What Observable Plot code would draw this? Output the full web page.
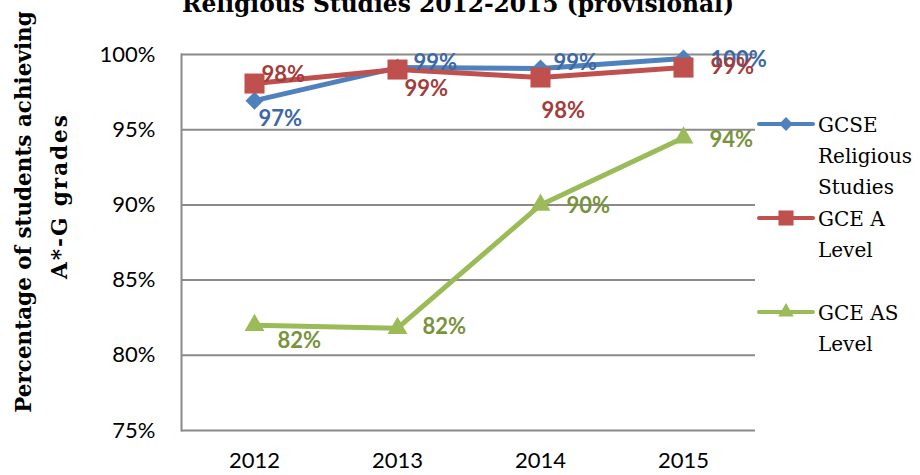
<!DOCTYPE html>
<html><head><meta charset="utf-8">
<script src="https://cdn.jsdelivr.net/npm/d3@7"></script>
<script src="https://cdn.jsdelivr.net/npm/@observablehq/plot@0.6"></script>
<style>
body{margin:0;background:#fff;}
#wrap{position:relative;width:920px;height:475px;overflow:hidden;background:#fff;}
#wrap svg{position:absolute;left:0;top:0;}
</style></head><body><div id="wrap"></div>
<script>
// ---- data ----
const years = ["2012", "2013", "2014", "2015"];
const seriesNames = ["GCSE Religious Studies", "GCE A Level", "GCE AS Level"];
const gcse = [96.93, 99.13, 99.07, 99.73];
const aLevel = [98.07, 99.0, 98.47, 99.13];
const asLevel = [82.0, 81.8, 90.0, 94.47];
const gcseLabels = ["97%", "99%", "99%", "100%"];
const aLevelLabels = ["98%", "99%", "98%", "99%"];
const asLevelLabels = ["82%", "82%", "90%", "94%"];
const yTicks = [75, 80, 85, 90, 95, 100];
const titleText = "Religious Studies 2012-2015 (provisional)";
const yLabelLines = ["Percentage of students achieving", "A*-G grades"];
const legendLines = [["GCSE", "Religious", "Studies"], ["GCE A", "Level"], ["GCE AS", "Level"]];

// ---- styling ----
const seriesValues = [gcse, aLevel, asLevel];
const seriesLabels = [gcseLabels, aLevelLabels, asLevelLabels];
const colors = ["#4F81BD", "#C0504D", "#9BBB59"];
const labelColors = ["#3D68A5", "#A33D3B", "#77933C"];
const diamond = {draw(ctx, size) { const h = Math.sqrt(size / 2); ctx.moveTo(0, -h); ctx.lineTo(h, 0); ctx.lineTo(0, h); ctx.lineTo(-h, 0); ctx.closePath(); }};
const symbols = [diamond, "square", "triangle"];
const markerR = [7.2, 11.3, 7.4];
const labelOffsets = [
  [[4, 18], [16, -5], [13, -6], [27, 1]],
  [[7, -9], [7, 19], [1, 33], [27, -1]],
  [[23, 16], [25, -1], [26, 1], [26, 2]]
];
const grid = "#8a8a8a";

const marks = [
  Plot.ruleY(yTicks, {stroke: grid, strokeWidth: 2}),
  Plot.frame({anchor: "left", stroke: grid, strokeWidth: 2}),
  Plot.axisX({tickSize: 0, tickPadding: 22, label: null, fontSize: 22}),
  Plot.axisY({ticks: yTicks, tickSize: 0, tickPadding: 26, tickFormat: d => d + "%", label: null, fontSize: 22})
];
seriesValues.forEach((vals, s) => {
  const rows = years.map((yr, i) => ({year: yr, value: vals[i], label: seriesLabels[s][i]}));
  marks.push(Plot.line(rows, {x: "year", y: "value", stroke: colors[s], strokeWidth: 5}));
  marks.push(Plot.dot(rows, {x: "year", y: "value", symbol: symbols[s], r: markerR[s], fill: colors[s], stroke: "none"}));
});
seriesValues.forEach((vals, s) => {
  years.forEach((yr, i) => {
    const [dx, dy] = labelOffsets[s][i];
    marks.push(Plot.text([{year: yr, value: vals[i], label: seriesLabels[s][i]}], {
      x: "year", y: "value", text: "label", dx, dy, textAnchor: "start",
      fill: labelColors[s], fontWeight: "bold", fontSize: 22, fontFamily: "Lato"
    }));
  });
});

const chart = Plot.plot({
  width: 920, height: 475,
  marginLeft: 181, marginRight: 165, marginTop: 54, marginBottom: 45,
  style: {fontFamily: "Lato", fontSize: "22px", color: "#000", background: "transparent", overflow: "visible"},
  x: {type: "point", domain: years, padding: 0.5},
  y: {domain: [75, 100]},
  marks
});
document.getElementById("wrap").appendChild(chart);

// ---- overlay: title, axis title, legend ----
const ov = d3.select("#wrap").append("svg").attr("width", 920).attr("height", 475);
ov.append("text").attr("x", 458).attr("y", 12).attr("text-anchor", "middle")
  .attr("font-family", "DejaVu Serif").attr("font-weight", "bold").attr("font-size", 25)
  .attr("textLength", 552).attr("lengthAdjust", "spacingAndGlyphs").text(titleText);
const yl = [[31, 212, 0], [67, 196, 2]];
yLabelLines.forEach((t, k) => {
  ov.append("text").attr("transform", `translate(${yl[k][0]},${yl[k][1]}) rotate(-90)`)
    .attr("text-anchor", "middle").attr("font-family", "DejaVu Serif").attr("font-weight", "bold")
    .attr("font-size", 21.5).attr("letter-spacing", yl[k][2]).text(t);
});
const legY = [124, 218, 312];
const legR = [5.5, 8.5, 5.8];
seriesNames.forEach((name, s) => {
  const g = ov.append("g").attr("transform", `translate(0,${legY[s]})`);
  g.append("line").attr("x1", 759).attr("x2", 813).attr("y1", 0).attr("y2", 0)
    .attr("stroke", colors[s]).attr("stroke-width", 4).attr("stroke-linecap", "round");
  const sym = s === 0 ? diamond : s === 1 ? d3.symbolSquare : d3.symbolTriangle;
  g.append("path").attr("transform", "translate(786,0)")
    .attr("d", d3.symbol(sym, Math.PI * legR[s] * legR[s])()).attr("fill", colors[s]);
  legendLines[s].forEach((ln, j) => {
    g.append("text").attr("x", 818).attr("y", j * 31 + 1).attr("dy", "0.35em")
      .attr("font-family", "DejaVu Serif").attr("font-size", 20).attr("fill", "#000").text(ln);
  });
});
</script></body></html>
